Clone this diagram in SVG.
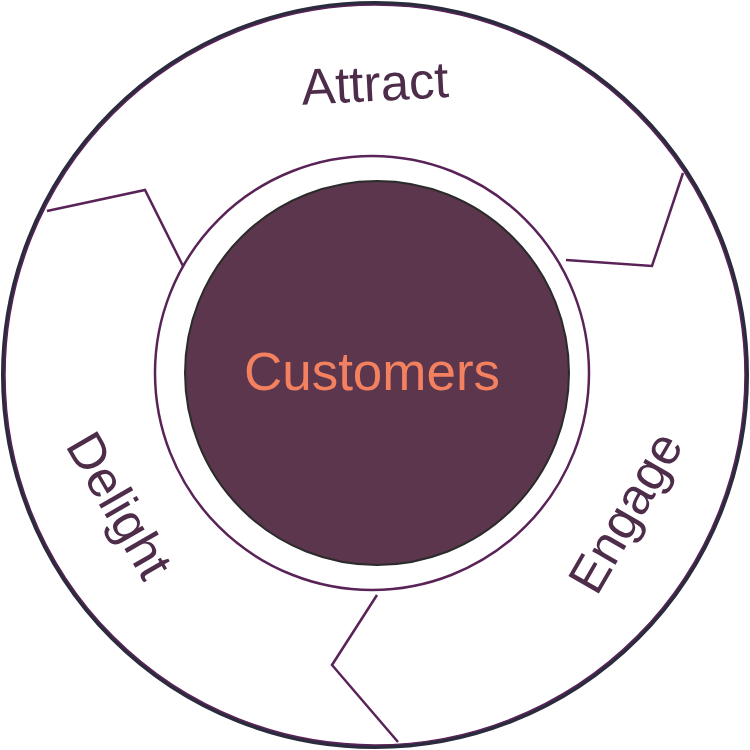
<svg xmlns="http://www.w3.org/2000/svg" width="750" height="750" viewBox="0 0 750 750">
<style>
.lbl{font-family:"Liberation Sans",Arial,sans-serif;font-size:51px;fill:#4e2d4a;text-anchor:middle}
.div{fill:none;stroke:#5a2358;stroke-width:2.5}
</style>
<rect width="750" height="750" fill="#fff"/>
<g id="outer">
<circle cx="375" cy="375" r="372" fill="#fff" stroke="#2b2b3e" stroke-width="4"/>
<circle cx="375" cy="375" r="370" fill="none" stroke="#5a2358" stroke-width="1.5"/>
</g>
<g id="ring"><circle cx="372" cy="373" r="217" fill="#fff" stroke="#5a2358" stroke-width="2.5"/></g>
<g id="connectors">
<polyline class="div" points="183,266 145,190 47,211"/>
<polyline class="div" points="566,260 652,266 683,173"/>
<polyline class="div" points="377,595 332,665 398,742"/>
</g>
<g id="customers">
<circle cx="377" cy="373" r="192" fill="#5c364c" stroke="#2b2b2b" stroke-width="2"/>
<text x="372" y="390" font-family="Liberation Sans,Arial,sans-serif" font-size="53" fill="#f3815f" text-anchor="middle">Customers</text>
</g>
<g id="attract"><text class="lbl" x="375" y="101" transform="rotate(-3 375 85)">Attract</text></g>
<g id="delight"><text class="lbl" x="120" y="523" transform="rotate(60 120 505)">Delight</text></g>
<g id="engage"><text class="lbl" x="625" y="530" transform="rotate(-60 625 512)">Engage</text></g>
</svg>
